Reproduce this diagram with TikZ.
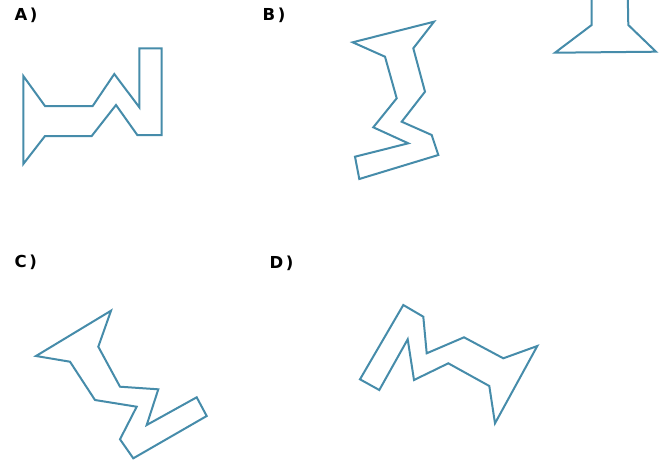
\documentclass[tikz,border=0pt]{standalone}
\usepackage{fontspec}
\newfontfamily\lblfont{DejaVu Sans}
\definecolor{shapeblue}{RGB}{70,140,170}
\begin{document}
\begin{tikzpicture}[x=1pt,y=-1pt,
  outline/.style={draw=shapeblue,line width=2pt,line join=miter},
  lbl/.style={anchor=base west,inner sep=0pt,font=\lblfont\bfseries\fontsize{16.5}{20}\selectfont}]
\useasboundingbox[fill=white] (0,0) rectangle (669,464);
% labels
\node[lbl] (la) at (14.5,20.5) {A\kern2.5pt)};
\node[lbl] (lb) at (262.5,20.5) {B\kern2.5pt)};
\node[lbl] (lc) at (14.5,267.5) {C\kern2.5pt)};
\node[lbl] (ld) at (269.5,268.5) {D\kern2.5pt)};
% shape A
\draw[outline] (139.3,48.3) -- (161.7,48.3) -- (161.7,135) -- (137.3,135) -- (116,105)
  -- (91.7,136) -- (45,136) -- (23.3,164) -- (23.3,76) -- (45,106) -- (92.7,106)
  -- (114.3,74) -- (139.3,107.3) -- cycle;
% shape B
\draw[outline] (352.7,42.3) -- (434,21.7) -- (413.3,48.3) -- (425,91.7) -- (401.7,121.7)
  -- (431.7,135) -- (438.3,155) -- (359.3,179) -- (355,156.7) -- (408.3,143.3)
  -- (373.3,127.3) -- (396.7,98.3) -- (385,56.7) -- cycle;
% partial shape top right
\draw[outline] (591.7,-2) -- (591.7,25) -- (555,52.7) -- (656,51.7) -- (628.3,25) -- (627.8,-2);
% shape C
\draw[outline] (111,310.7) -- (36,356) -- (70,361.7) -- (95,400) -- (136.7,406.7)
  -- (120,439.3) -- (133.3,458.3) -- (206.7,416) -- (196.7,397.3) -- (146.7,425)
  -- (158.3,389.3) -- (120,386.7) -- (98.3,346.7) -- cycle;
% shape D
\draw[outline] (403.3,305) -- (423.3,316.7) -- (426.7,353.3) -- (464,337.3) -- (503.3,358.3)
  -- (537.3,346) -- (495,423.3) -- (489.3,386) -- (448.3,363.3) -- (414,380)
  -- (407.7,339.3) -- (379.3,390) -- (360,379.3) -- cycle;
\end{tikzpicture}
\end{document}
